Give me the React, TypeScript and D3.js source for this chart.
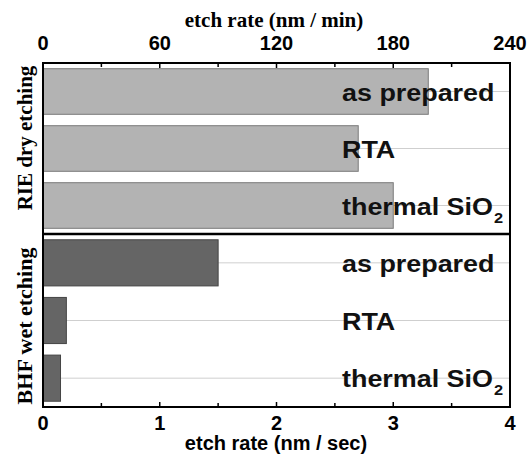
import React, { useEffect, useRef } from 'react';
import * as d3 from 'd3';

// sample treatments (same order in both panels)
const treatments = ['as prepared', 'RTA', 'thermal SiO2'];
// RIE dry etching, nm / min (top axis)
const dryRates = [198, 162, 180];
// BHF wet etching, nm / sec (bottom axis)
const wetRates = [1.5, 0.2, 0.15];
const topTicks = [0, 60, 120, 180, 240];
const bottomTicks = [0, 1, 2, 3, 4];

const width = 527;
const height = 454;
const left = 43;
const right = 510;
const top = 63;
const mid = 234;
const bottom = 407;

const sans = '"Liberation Sans", Arial, sans-serif';
const serif = '"Liberation Serif", "Times New Roman", serif';

function App() {
  const svgRef = useRef<SVGSVGElement>(null);

  useEffect(() => {
    const svg = d3.select(svgRef.current);
    svg.selectAll('*').remove();

    const xMin = d3.scaleLinear().domain([0, 240]).range([left, right]);
    const xSec = d3.scaleLinear().domain([0, 4]).range([left, right]);
    const yDry = d3.scaleBand<string>().domain(treatments).range([top, mid]).paddingInner(0.2).paddingOuter(0.1);
    const yWet = d3.scaleBand<string>().domain(treatments).range([mid, bottom]).paddingInner(0.2).paddingOuter(0.1);

    // grid lines through the middle of each row
    const drawGrid = (y: d3.ScaleBand<string>) => {
      svg.append('g')
        .selectAll('line')
        .data(treatments)
        .join('line')
        .attr('x1', left).attr('x2', right)
        .attr('y1', d => y(d)! + y.bandwidth() / 2)
        .attr('y2', d => y(d)! + y.bandwidth() / 2)
        .attr('stroke', '#cfcfcf')
        .attr('stroke-width', 1);
    };
    drawGrid(yDry);
    drawGrid(yWet);

    svg.append('g')
      .selectAll('rect')
      .data(dryRates)
      .join('rect')
      .attr('x', xMin(0))
      .attr('y', (d, i) => yDry(treatments[i])!)
      .attr('width', d => xMin(d) - xMin(0))
      .attr('height', yDry.bandwidth())
      .attr('fill', '#b3b3b3')
      .attr('stroke', '#7a7a7a')
      .attr('stroke-width', 1);

    svg.append('g')
      .selectAll('rect')
      .data(wetRates)
      .join('rect')
      .attr('x', xSec(0))
      .attr('y', (d, i) => yWet(treatments[i])!)
      .attr('width', d => xSec(d) - xSec(0))
      .attr('height', yWet.bandwidth())
      .attr('fill', '#656565')
      .attr('stroke', '#444')
      .attr('stroke-width', 1);

    // row labels
    const drawLabels = (y: d3.ScaleBand<string>) => {
      const t = svg.append('g')
        .selectAll('text')
        .data(treatments)
        .join('text')
        .attr('transform', d => `translate(342,${y(d)! + y.bandwidth() / 2 + 9}) scale(1.17,1)`)
        .attr('font-family', sans)
        .attr('font-weight', 'bold')
        .attr('font-size', 23)
        .attr('fill', '#111');
      t.each(function (d) {
        const el = d3.select(this);
        if (d.endsWith('2')) {
          el.append('tspan').text(d.slice(0, -1));
          el.append('tspan').attr('font-size', 14).attr('dy', 8).attr('dx', 1).text('2');
        } else {
          el.text(d);
        }
      });
    };
    drawLabels(yDry);
    drawLabels(yWet);

    // ticks (inward)
    const minTicks = d3.range(0, 241, 30);
    svg.append('g')
      .selectAll('line')
      .data(minTicks)
      .join('line')
      .attr('x1', d => xMin(d)).attr('x2', d => xMin(d))
      .attr('y1', top).attr('y2', d => top + (d % 60 === 0 ? 5 : 4))
      .attr('stroke', '#000').attr('stroke-width', 1.5);
    const secTicks = d3.range(0, 4.01, 0.5);
    svg.append('g')
      .selectAll('line')
      .data(secTicks)
      .join('line')
      .attr('x1', d => xSec(d)).attr('x2', d => xSec(d))
      .attr('y1', bottom).attr('y2', d => bottom - (d % 1 === 0 ? 5 : 4))
      .attr('stroke', '#000').attr('stroke-width', 1.5);

    // frame and divider
    svg.append('rect')
      .attr('x', left).attr('y', top)
      .attr('width', right - left).attr('height', bottom - top)
      .attr('fill', 'none').attr('stroke', '#000').attr('stroke-width', 2);
    svg.append('line')
      .attr('x1', left).attr('x2', right)
      .attr('y1', mid).attr('y2', mid)
      .attr('stroke', '#000').attr('stroke-width', 2.5);

    // tick labels
    svg.append('g')
      .selectAll('text')
      .data(topTicks)
      .join('text')
      .attr('x', d => xMin(d)).attr('y', 50)
      .attr('text-anchor', 'middle')
      .attr('font-family', sans).attr('font-weight', 'bold').attr('font-size', 20)
      .text(d => d);
    svg.append('g')
      .selectAll('text')
      .data(bottomTicks)
      .join('text')
      .attr('x', d => xSec(d)).attr('y', 430)
      .attr('text-anchor', 'middle')
      .attr('font-family', sans).attr('font-weight', 'bold').attr('font-size', 20)
      .text(d => d);

    // axis titles
    svg.append('text')
      .attr('x', 274).attr('y', 27)
      .attr('text-anchor', 'middle')
      .attr('font-family', serif).attr('font-weight', 'bold').attr('font-size', 21)
      .text('etch rate (nm / min)');
    svg.append('text')
      .attr('x', 276).attr('y', 450)
      .attr('text-anchor', 'middle')
      .attr('font-family', sans).attr('font-weight', 'bold').attr('font-size', 20)
      .text('etch rate (nm / sec)');
    svg.append('text')
      .attr('transform', 'translate(32,138) rotate(-90)')
      .attr('text-anchor', 'middle')
      .attr('font-family', serif).attr('font-weight', 'bold').attr('font-size', 21)
      .text('RIE dry etching');
    svg.append('text')
      .attr('transform', 'translate(32,326) rotate(-90)')
      .attr('text-anchor', 'middle')
      .attr('font-family', serif).attr('font-weight', 'bold').attr('font-size', 22)
      .text('BHF wet etching');
  }, []);

  return (
    <svg
      ref={svgRef}
      width={width}
      height={height}
      style={{ position: 'absolute', left: 0, top: 0, background: '#fff' }}
    />
  );
}

export default App;
